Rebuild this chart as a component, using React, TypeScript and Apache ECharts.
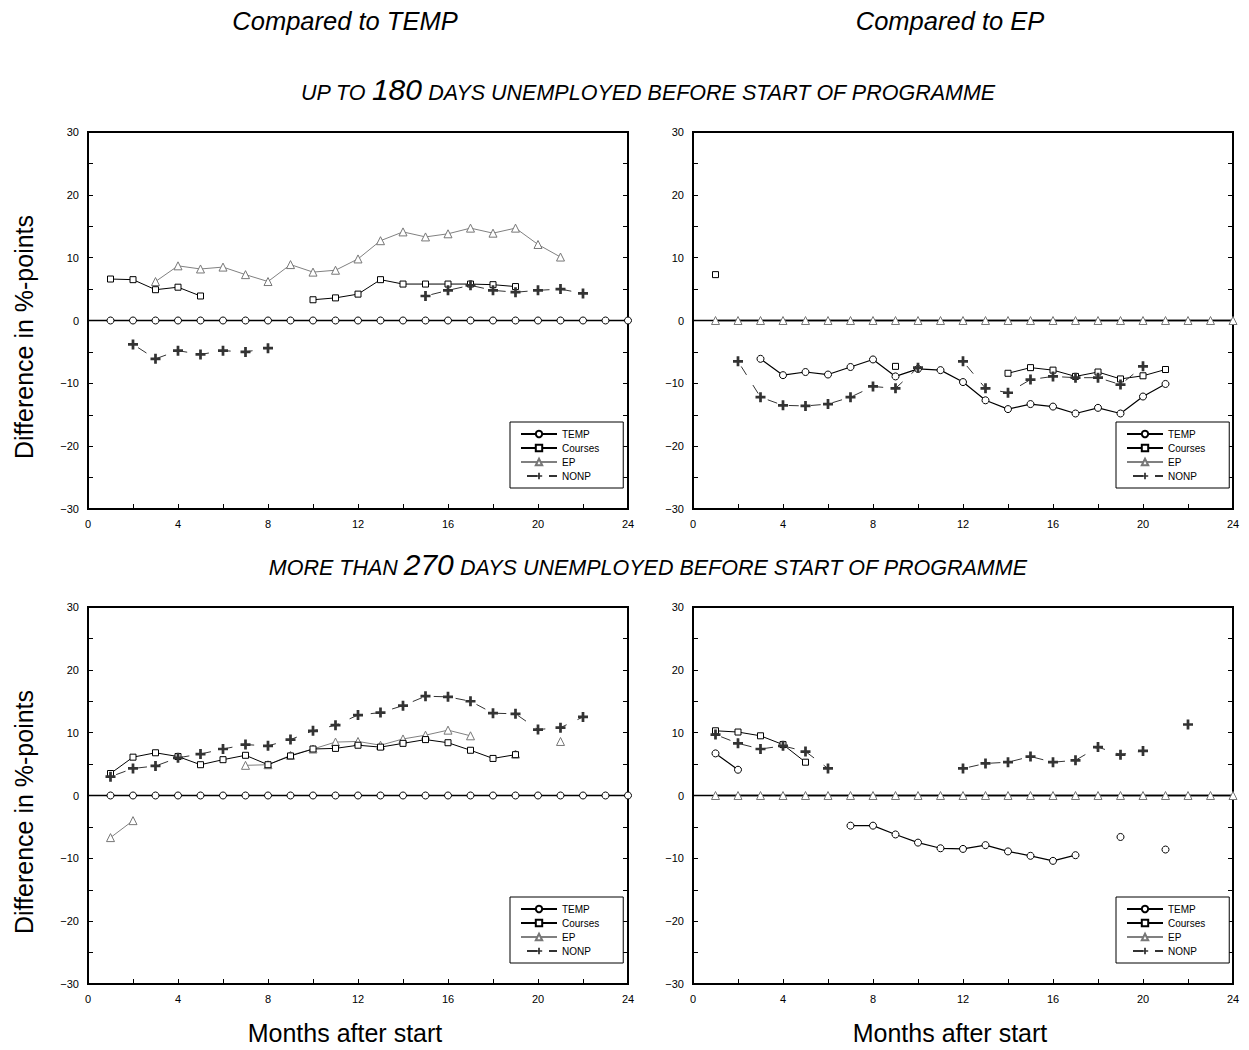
import React, { useEffect, useRef } from "react";
import * as echarts from "echarts";

const FONT = '"Liberation Sans", Arial, Helvetica, sans-serif';

const months = [1, 2, 3, 4, 5, 6, 7, 8, 9, 10, 11, 12, 13, 14, 15, 16, 17, 18, 19, 20, 21, 22, 23, 24];
const seriesNames = ["TEMP", "Courses", "EP", "NONP"];

// Top-left: up to 180 days, compared to TEMP
const tlTemp = [0, 0, 0, 0, 0, 0, 0, 0, 0, 0, 0, 0, 0, 0, 0, 0, 0, 0, 0, 0, 0, 0, 0, 0];
const tlCourses = [6.6, 6.5, 4.9, 5.3, 3.9, null, null, null, null, 3.3, 3.6, 4.2, 6.5, 5.8, 5.8, 5.8, 5.8, 5.7, 5.4, null, null, null, null, null];
const tlEP = [null, null, 6.2, 8.7, 8.2, 8.5, 7.3, 6.2, 8.9, 7.7, 8.0, 9.8, 12.7, 14.1, 13.3, 13.8, 14.7, 13.9, 14.7, 12.1, 10.1, null, null, null];
const tlNONP = [null, -3.8, -6.1, -4.8, -5.4, -4.8, -5.0, -4.4, null, null, null, null, null, null, 3.9, 4.8, 5.6, 4.8, 4.5, 4.8, 5.0, 4.3, null, null];

// Top-right: up to 180 days, compared to EP
const trTemp = [null, null, -6.1, -8.7, -8.2, -8.6, -7.4, -6.2, -8.9, -7.7, -7.9, -9.8, -12.7, -14.1, -13.3, -13.7, -14.8, -13.9, -14.8, -12.1, -10.1, null, null, null];
const trCourses = [7.3, null, null, null, null, null, null, null, -7.3, null, null, null, null, -8.4, -7.5, -7.9, -8.9, -8.2, -9.3, -8.8, -7.8, null, null, null];
const trEP = [0, 0, 0, 0, 0, 0, 0, 0, 0, 0, 0, 0, 0, 0, 0, 0, 0, 0, 0, 0, 0, 0, 0, 0];
const trNONP = [null, -6.5, -12.2, -13.5, -13.6, -13.3, -12.2, -10.5, -10.8, -7.5, null, -6.5, -10.8, -11.5, -9.4, -8.9, -9.1, -9.1, -10.2, -7.3, null, null, null, null];

// Bottom-left: more than 270 days, compared to TEMP
const blTemp = [0, 0, 0, 0, 0, 0, 0, 0, 0, 0, 0, 0, 0, 0, 0, 0, 0, 0, 0, 0, 0, 0, 0, 0];
const blCourses = [3.5, 6.1, 6.8, 6.2, 4.9, 5.7, 6.4, 4.9, 6.3, 7.4, 7.5, 8.0, 7.7, 8.3, 8.9, 8.4, 7.2, 5.9, 6.5, null, null, null, null, null];
const blEP = [-6.7, -4.0, null, null, null, null, 4.8, 4.9, 6.4, 7.4, 8.5, 8.6, 8.0, 9.0, 9.6, 10.4, 9.5, null, 6.6, null, 8.6, null, null, null];
const blNONP = [3.0, 4.3, 4.7, 6.0, 6.6, 7.4, 8.1, 7.9, 8.9, 10.3, 11.2, 12.8, 13.2, 14.3, 15.8, 15.7, 15.0, 13.1, 13.0, 10.5, 10.8, 12.5, null, null];

// Bottom-right: more than 270 days, compared to EP
const brTemp = [6.7, 4.1, null, null, null, null, -4.8, -4.8, -6.2, -7.5, -8.4, -8.5, -7.9, -8.9, -9.6, -10.4, -9.5, null, -6.6, null, -8.6, null, null, null];
const brCourses = [10.3, 10.1, 9.5, 8.1, 5.3, null, null, null, null, null, null, null, null, null, null, null, null, null, null, null, null, null, null, null];
const brEP = [0, 0, 0, 0, 0, 0, 0, 0, 0, 0, 0, 0, 0, 0, 0, 0, 0, 0, 0, 0, 0, 0, 0, 0];
const brNONP = [9.7, 8.3, 7.4, 7.9, 7.0, 4.3, null, null, null, null, null, 4.3, 5.1, 5.3, 6.2, 5.3, 5.6, 7.7, 6.5, 7.1, null, 11.3, null, null];

const zeroLine = [[0, 0], [24, 0]];

const panels = [
  { temp: tlTemp, courses: tlCourses, ep: tlEP, nonp: tlNONP, left: 88, top: 132, legendLeft: 510, legendTop: 422, epLine: "#808080" },
  { temp: trTemp, courses: trCourses, ep: trEP, nonp: trNONP, left: 693, top: 132, legendLeft: 1116, legendTop: 422, epLine: "#000" },
  { temp: blTemp, courses: blCourses, ep: blEP, nonp: blNONP, left: 88, top: 607, legendLeft: 510, legendTop: 897, epLine: "#808080" },
  { temp: brTemp, courses: brCourses, ep: brEP, nonp: brNONP, left: 693, top: 607, legendLeft: 1116, legendTop: 897, epLine: "#000" },
];

const crossPath = "path://M4,0H7V4H11V7H7V11H4V7H0V4H4Z";

function pts(arr: (number | null)[]) {
  return months.map((m, i) => [m, arr[i] === null ? "-" : arr[i]]);
}

function buildOption() {
  const grid: any[] = [];
  const xAxis: any[] = [];
  const yAxis: any[] = [];
  const series: any[] = [];
  const legend: any[] = [];

  panels.forEach((p, g) => {
    grid.push({
      left: p.left,
      top: p.top,
      width: 540,
      height: 377,
      show: true,
      borderColor: "#000",
      borderWidth: 2,
      backgroundColor: "transparent",
    });
    xAxis.push({
      type: "value",
      gridIndex: g,
      min: 0,
      max: 24,
      interval: 2,
      axisLine: { show: true, onZero: false, lineStyle: { color: "#000", width: 2 } },
      axisTick: { show: true, inside: true, length: 5, lineStyle: { color: "#000", width: 1 } },
      axisLabel: {
        formatter: (v: number) => (v % 4 === 0 ? String(v) : ""),
        fontSize: 11,
        color: "#000",
        margin: 9,
        fontFamily: FONT,
      },
      splitLine: { show: false },
    });
    yAxis.push({
      type: "value",
      gridIndex: g,
      min: -30,
      max: 30,
      interval: 5,
      position: "left",
      axisLine: { show: true, onZero: false, lineStyle: { color: "#000", width: 2 } },
      axisTick: { show: true, inside: true, length: 5, lineStyle: { color: "#000", width: 1 } },
      axisLabel: {
        formatter: (v: number) => (v % 10 === 0 ? String(v).replace("-", "\u2212") : ""),
        fontSize: 11,
        color: "#000",
        margin: 9,
        fontFamily: FONT,
      },
      splitLine: { show: false },
    });
    yAxis.push({
      type: "value",
      gridIndex: g,
      min: -30,
      max: 30,
      interval: 5,
      position: "right",
      axisLine: { show: true, onZero: false, lineStyle: { color: "#000", width: 2 } },
      axisTick: { show: true, inside: true, length: 5, lineStyle: { color: "#000", width: 1 } },
      axisLabel: { show: false },
      splitLine: { show: false },
    });

    const base = {
      type: "line",
      xAxisIndex: g,
      yAxisIndex: 2 * g,
      showAllSymbol: true,
      connectNulls: false,
      silent: true,
    };
    series.push({
      ...base,
      name: "zero",
      data: zeroLine,
      symbol: "none",
      lineStyle: { color: "#000", width: 1.5 },
      z: 1,
    });
    series.push({
      ...base,
      name: "TEMP",
      data: pts(p.temp),
      symbol: "circle",
      symbolSize: 7,
      itemStyle: { color: "#fff", borderColor: "#000", borderWidth: 1 },
      lineStyle: { color: "#000", width: 1.2 },
      z: 3,
    });
    series.push({
      ...base,
      name: "Courses",
      data: pts(p.courses),
      symbol: "rect",
      symbolSize: 6,
      itemStyle: { color: "#fff", borderColor: "#000", borderWidth: 1 },
      lineStyle: { color: "#000", width: 1 },
      z: 4,
    });
    series.push({
      ...base,
      name: "EP",
      data: pts(p.ep),
      symbol: "triangle",
      symbolSize: 8,
      itemStyle: { color: "#fff", borderColor: "#777", borderWidth: 1 },
      lineStyle: { color: p.epLine, width: p.epLine === "#000" ? 1.5 : 1 },
      z: 3,
    });
    series.push({
      ...base,
      name: "NONP",
      data: pts(p.nonp),
      symbol: crossPath,
      symbolSize: 10,
      itemStyle: { color: "#333", borderWidth: 0 },
      lineStyle: { color: "#333", width: 1, type: [10, 12], dashOffset: 15.5 },
      z: 5,
    });

    legend.push({
      data: seriesNames,
      orient: "vertical",
      left: p.legendLeft,
      top: p.legendTop,
      padding: [7, 24, 7, 10],
      itemGap: 4,
      itemWidth: 36,
      itemHeight: 8,
      borderColor: "#000",
      borderWidth: 1,
      backgroundColor: "#fff",
      selectedMode: false,
      textStyle: { fontSize: 10, color: "#000", fontFamily: FONT },
    });
  });

  const italicRich = (small: string, big: string, rest: string) =>
    `{s|${small}}{b|${big}}{s|${rest}}`;
  const richStyles = {
    s: { fontSize: 21.5, fontStyle: "italic", fontFamily: FONT, fill: "#000", color: "#000", verticalAlign: "bottom", lineHeight: 32 },
    b: { fontSize: 30, fontStyle: "italic", fontFamily: FONT, fill: "#000", color: "#000", verticalAlign: "bottom", lineHeight: 32 },
  };

  const txt = (x: number, y: number, text: string, size: number, italic: boolean, rotation = 0) => ({
    type: "text",
    x,
    y,
    rotation,
    silent: true,
    style: {
      text,
      fontSize: size,
      fontStyle: italic ? "italic" : "normal",
      fontFamily: FONT,
      fill: "#000",
      textAlign: "center",
      textVerticalAlign: "middle",
      align: "center",
      verticalAlign: "middle",
    },
  });

  const graphic: any[] = [
    txt(345, 21, "Compared to TEMP", 25.5, true),
    txt(950, 21, "Compared to EP", 25.5, true),
    {
      type: "text",
      x: 648,
      y: 88,
      silent: true,
      style: {
        text: italicRich("UP TO ", "180", " DAYS UNEMPLOYED BEFORE START OF PROGRAMME"),
        rich: richStyles,
        textAlign: "center",
        textVerticalAlign: "middle",
        align: "center",
        verticalAlign: "middle",
      },
    },
    {
      type: "text",
      x: 648,
      y: 563,
      silent: true,
      style: {
        text: italicRich("MORE THAN ", "270", " DAYS UNEMPLOYED BEFORE START OF PROGRAMME"),
        rich: richStyles,
        textAlign: "center",
        textVerticalAlign: "middle",
        align: "center",
        verticalAlign: "middle",
      },
    },
    txt(24, 337, "Difference in %-points", 25, false, Math.PI / 2),
    txt(24, 812, "Difference in %-points", 25, false, Math.PI / 2),
    txt(345, 1033, "Months after start", 25, false),
    txt(950, 1033, "Months after start", 25, false),
  ];

  return {
    animation: false,
    backgroundColor: "#fff",
    textStyle: { fontFamily: FONT },
    grid,
    xAxis,
    yAxis,
    series,
    legend,
    graphic,
  };
}

export default function App() {
  const ref = useRef<HTMLDivElement>(null);
  useEffect(() => {
    document.body.style.margin = "0";
    const chart = echarts.init(ref.current!, undefined, { renderer: "svg" });
    chart.setOption(buildOption() as any);
    return () => chart.dispose();
  }, []);
  return <div ref={ref} style={{ width: 1249, height: 1050 }} />;
}
